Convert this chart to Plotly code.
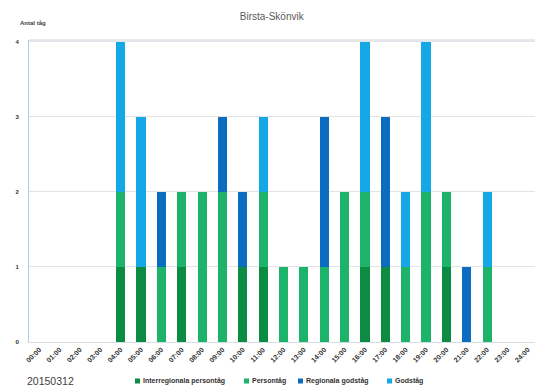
import plotly.graph_objects as go

# Hourly train counts, Birsta-Skönvik
hours = [f"{h:02d}:00" for h in range(25)]

interregional_person = [0, 0, 0, 0, 1, 1, 0, 1, 0, 0, 1, 1, 0, 0, 0, 0, 1, 1, 0, 0, 1, 0, 0, 0, 0]
person = [0, 0, 0, 0, 1, 0, 1, 1, 2, 2, 0, 1, 1, 1, 1, 2, 1, 0, 1, 2, 1, 0, 1, 0, 0]
regional_gods = [0, 0, 0, 0, 0, 0, 1, 0, 0, 1, 1, 0, 0, 0, 2, 0, 0, 2, 0, 0, 0, 1, 0, 0, 0]
gods = [0, 0, 0, 0, 2, 2, 0, 0, 0, 0, 0, 1, 0, 0, 0, 0, 2, 0, 1, 2, 0, 0, 1, 0, 0]

series_names = ["Interregionala persontåg", "Persontåg", "Regionala godståg", "Godståg"]
series_values = [interregional_person, person, regional_gods, gods]
series_colors = ["#0b8c42", "#1db36b", "#0b6dbf", "#14a8e6"]

W, H = 535, 392
ML, MR, MT, MB = 29, 0, 40, 50
pw, ph = W - ML - MR, H - MT - MB


def px_x(x):
    return (x - ML) / pw


def px_y(y):
    return (H - MB - y) / ph


fig = go.Figure()
for name, vals, color in zip(series_names, series_values, series_colors):
    fig.add_trace(go.Bar(
        x=hours, y=vals, name=name, showlegend=False,
        marker=dict(color=color, line=dict(width=0)),
    ))

fig.update_layout(
    width=W, height=H,
    barmode="stack", bargap=0.55,
    paper_bgcolor="white", plot_bgcolor="white",
    margin=dict(l=ML, r=MR, t=MT, b=MB),
    font=dict(family="Liberation Sans, Arial, sans-serif", color="#404040"),
    title=dict(text="Birsta-Skönvik", x=0.508, xref="container", xanchor="center",
               y=0.957, yref="container", yanchor="middle",
               font=dict(size=10, color="#595959")),
    xaxis=dict(
        type="category", range=[-0.5, 24.35],
        tickangle=-45, tickfont=dict(size=7, color="#333333", weight="bold"),
        showgrid=False, showline=True, linecolor="#d6dde5", linewidth=1,
        ticks="",
    ),
    yaxis=dict(
        range=[0, 4.02], tickvals=[0, 1, 2, 3, 4],
        tickfont=dict(size=6, color="#333333", weight="bold"),
        showgrid=True, gridcolor="#e3e3e3", gridwidth=1,
        showline=True, linecolor="#a9cbea", linewidth=1, mirror=False,
        ticks="", ticklabelstandoff=8, zeroline=False,
    ),
)

annotations = [
    dict(text="<b>Antal tåg</b>", x=px_x(18), y=px_y(23), xref="paper", yref="paper",
         showarrow=False, font=dict(size=6, color="#404040"),
         xanchor="left", yanchor="middle"),
    dict(text="20150312", x=px_x(50), y=px_y(381), xref="paper", yref="paper",
         showarrow=False, font=dict(size=10.5, color="#404040"),
         xanchor="center", yanchor="middle"),
]
shapes = [
    # top border of the plot area
    dict(type="line", xref="paper", yref="paper", x0=0, x1=1, y0=1, y1=1,
         line=dict(color="#c6d4e1", width=1)),
]

# compact legend row under the axis: small square key + label
legend_left = [135, 244, 298, 387]
legend_y = 381
for left, name, color in zip(legend_left, series_names, series_colors):
    shapes.append(dict(type="rect", xref="paper", yref="paper",
                       x0=px_x(left), x1=px_x(left + 5),
                       y0=px_y(legend_y + 2.5), y1=px_y(legend_y - 2.5),
                       fillcolor=color, line=dict(width=0)))
    annotations.append(dict(text=name, x=px_x(left + 6), y=px_y(legend_y),
                            xref="paper", yref="paper", showarrow=False,
                            xanchor="left", yanchor="middle",
                            font=dict(size=7, color="#333333", weight="bold")))

fig.update_layout(annotations=annotations, shapes=shapes)

fig.write_html("out.html")
